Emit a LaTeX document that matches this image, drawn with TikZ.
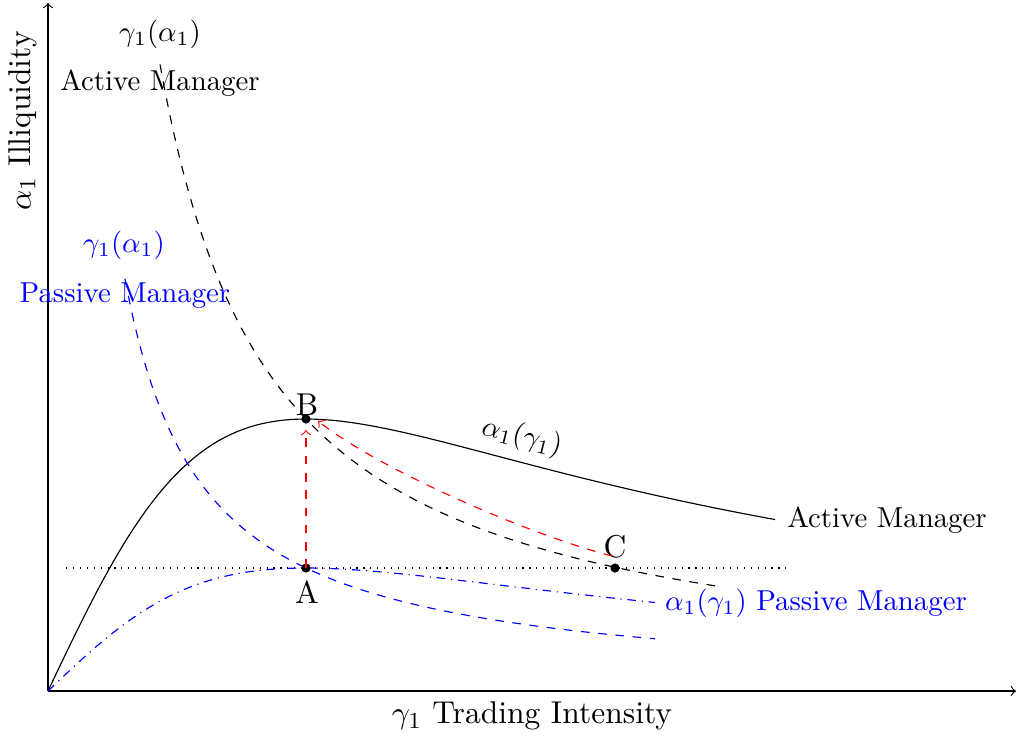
\documentclass[tikz,border=0pt]{standalone}
\begin{document}
\begin{tikzpicture}[x=0.347pt,y=-0.347pt,
  dotnode/.style={circle,fill=black,inner sep=0pt,minimum size=3.2pt},
  curve/.style={line width=0.4pt},
  lbl/.style={inner sep=1pt},
  biglbl/.style={inner sep=1pt,font=\fontsize{10.95}{13}\selectfont},
  bl/.style={blue,inner sep=1pt}]
\useasboundingbox (0,0) rectangle (1016,736);
% axes
\coordinate (O) at (48,691);
\coordinate (ytop) at (48,3);
\coordinate (xend) at (1016,691);
\draw[->] (O) -- (ytop);
\draw[->] (O) -- (xend);
\node[biglbl,rotate=90] (ylab) at (23,121) {$\alpha_1$ Illiquidity};
\node[biglbl] (xlab) at (532,716) {$\gamma_1$ Trading Intensity};
% dotted level line
\coordinate (d1) at (66,568);
\coordinate (d2) at (790,568);
\draw[dotted] (d1) -- (d2);
% active alpha1(gamma1) solid
\draw[curve] plot[domain=0:727,samples=120] ({48+\x},{691-544*(\x/258)/(1+(\x/258)*(\x/258))});
% passive alpha1(gamma1) dash-dot
\draw[curve,blue,dash dot] plot[domain=0:607,samples=120] ({48+\x},{691-246*(\x/258)/(1+(\x/258)*(\x/258))});
% active gamma1(alpha1) dashed
\draw[curve,dashed] plot[domain=112:667,samples=120] ({48+\x},{691-701.76/(\x/100)});
% passive gamma1(alpha1) dashed blue
\draw[curve,blue,dashed] plot[domain=77:607,samples=120] ({48+\x},{691-317.34/(\x/100)});
% points
\node[dotnode] (A) at (306,568) {};
\node[dotnode] (B) at (306,419) {};
\node[dotnode] (C) at (615,568) {};
\node[biglbl] (Alab) at (307,592) {A};
\node[biglbl] (Blab) at (307,405) {B};
\node[biglbl] (Clab) at (615,547) {C};
% red arrows
\coordinate (c1) at (612,556);
\coordinate (b1) at (318,421);
\draw[red,dashed,->] (A.center) -- ([yshift=-3.8pt]B.center);
\draw[red,dashed,->] (c1) .. controls (530,535) and (380,470) .. (b1);
% labels
\node[lbl] (g1a) at (160,34) {$\gamma_1(\alpha_1)$};
\node[lbl] (am1) at (160,83) {Active Manager};
\node[bl] (g1p) at (124,245) {$\gamma_1(\alpha_1)$};
\node[bl] (pm1) at (125,296) {Passive Manager};
\node[lbl,rotate=-14] (a1g) at (522,437) {$\alpha_1(\gamma_1)$};
\node[lbl] (am2) at (887,520) {Active Manager};
\node[bl] (pm2) at (816,603) {$\alpha_1(\gamma_1)$ Passive Manager};
\end{tikzpicture}
\end{document}
